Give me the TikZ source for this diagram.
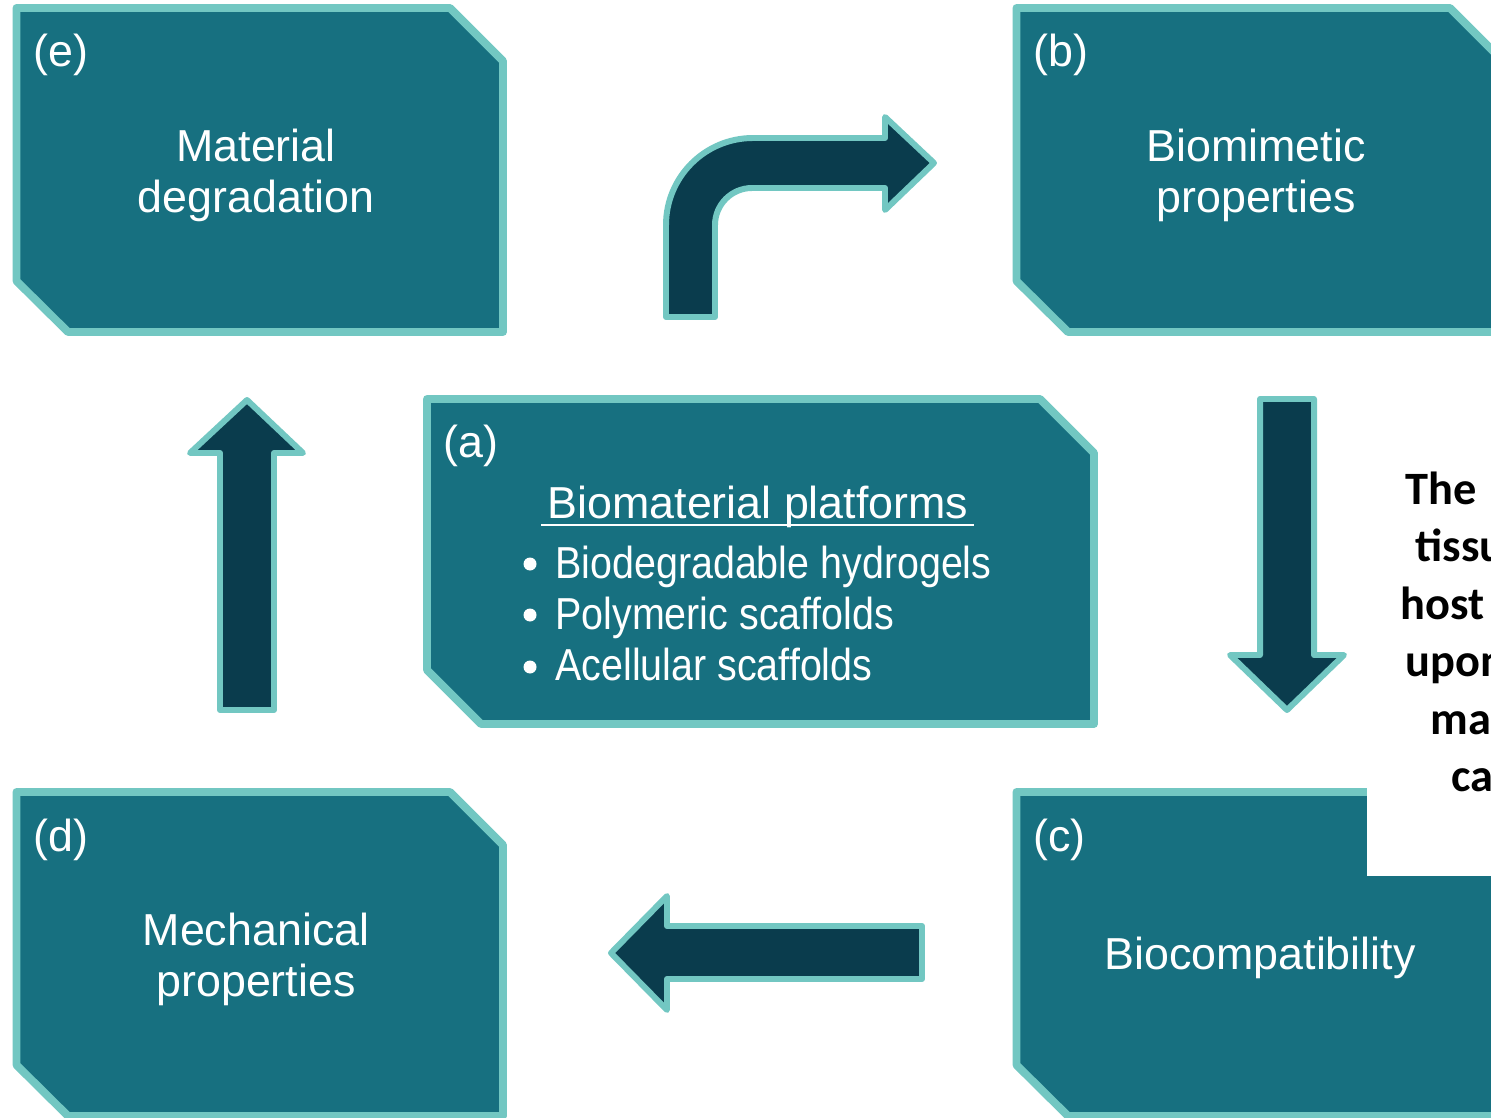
\documentclass[tikz,border=0pt]{standalone}
\usepackage{fontspec}
\setmainfont{Liberation Sans}
\newfontfamily\notefont{Carlito}
\usepackage{graphicx}
\usepackage{tikz}
\usetikzlibrary{calc}
\definecolor{boxfill}{HTML}{177080}
\definecolor{boxline}{HTML}{72C7C2}
\definecolor{arrowfill}{HTML}{0A3C4D}

\begin{document}
\begin{tikzpicture}[x=0.02cm,y=-0.02cm]
\tikzstyle{every node}+=[inner sep=0pt]
\tikzstyle{box}=[draw=boxline, fill=boxfill, line width=4.5pt, line join=round]
\tikzstyle{blockarrow}=[draw=boxline, fill=arrowfill, line width=3.4pt, line join=round]
\tikzstyle{boxtext}=[text=white, align=center, font=\fontsize{25.5}{29}\selectfont]
\tikzstyle{plain}=[text=white, font=\fontsize{25.5}{29}\selectfont]
\tikzstyle{dot}=[circle, fill=white, minimum size=7.4pt]
\tikzstyle{note}=[anchor=base west, font=\notefont\bfseries\fontsize{26.4}{31}\selectfont]
\useasboundingbox (0,0) rectangle (1491,1118);
\clip (0,0) rectangle (1491,1118);
\draw [box] (16.5,8) -- (450,8) -- (503,61) -- (503,332) -- (68,332) -- (16.5,281) -- cycle;
\draw [box] (1016.5,8) -- (1450,8) -- (1503,61) -- (1503,332) -- (1068,332) -- (1016.5,281) -- cycle;
\draw [box] (16.5,792) -- (450,792) -- (503,845) -- (503,1116) -- (68,1116) -- (16.5,1065) -- cycle;
\draw [box] (1016.5,792) -- (1450,792) -- (1503,845) -- (1503,1116) -- (1068,1116) -- (1016.5,1065) -- cycle;
\draw [box] (427,399) -- (1040,399) -- (1094,453) -- (1094,724) -- (481,724) -- (427,670) -- cycle;
\draw [blockarrow] (666,317) -- (666,225) arc [start angle=180, end angle=270, radius=87] -- (885,138) -- (885,117) -- (934,163) -- (885,210) -- (885,188) -- (752,188) arc [start angle=270, end angle=180, radius=37] -- (715,317) -- cycle;
\draw [blockarrow] (220,710) -- (220,453) -- (190,453) -- (247,400) -- (303,453) -- (274,453) -- (274,710) -- cycle;
\draw [blockarrow] (1260,399) -- (1260,655) -- (1230,655) -- (1287,710) -- (1344,655) -- (1314,655) -- (1314,399) -- cycle;
\draw [blockarrow] (922,926) -- (667,926) -- (667,896) -- (611,953) -- (667,1010) -- (667,979) -- (922,979) -- cycle;
\draw (33,67) node [plain, anchor=base west] (tage) {(e)};
\draw (1033,67) node [plain, anchor=base west] (tagb) {(b)};
\draw (1033,851) node [plain, anchor=base west] (tagc) {(c)};
\draw (33,851) node [plain, anchor=base west] (tagd) {(d)};
\draw (443,458) node [plain, anchor=base west] (taga) {(a)};
\draw (256,175) node [boxtext] (mat) {Material\\degradation};
\draw (1256,175) node [boxtext] (bio) {Biomimetic\\properties};
\draw (256,959) node [boxtext] (mech) {Mechanical\\properties};
\draw (1260,958) node [boxtext] (comp) {Biocompatibility};
\draw (758,518) node [plain, anchor=base] (plat) {Biomaterial platforms};
\draw [white, line width=1.4pt] ($(plat.base west)+(-6,7)$) -- ($(plat.base east)+(5,7)$);
\draw (530,564) node [dot] (dot1) {};
\draw (530,615) node [dot] (dot2) {};
\draw (530,667) node [dot] (dot3) {};
\draw (555,578) node [plain, anchor=base west] (hydro) {\scalebox{0.88}[1]{Biodegradable hydrogels}};
\draw (555,629) node [plain, anchor=base west] (poly) {\scalebox{0.88}[1]{Polymeric scaffolds}};
\draw (555,680) node [plain, anchor=base west] (acell) {\scalebox{0.88}[1]{Acellular scaffolds}};
\fill [white] (1367,430) rectangle (1491,876);
\draw (1405,504) node [note] (n1) {The};
\draw (1415,561) node [note] (n2) {tissu};
\draw (1400,619) node [note] (n3) {host};
\draw (1405,676) node [note] (n4) {upon};
\draw (1430,734) node [note] (n5) {ma};
\draw (1451,791) node [note] (n6) {ca};
\end{tikzpicture}
\end{document}
